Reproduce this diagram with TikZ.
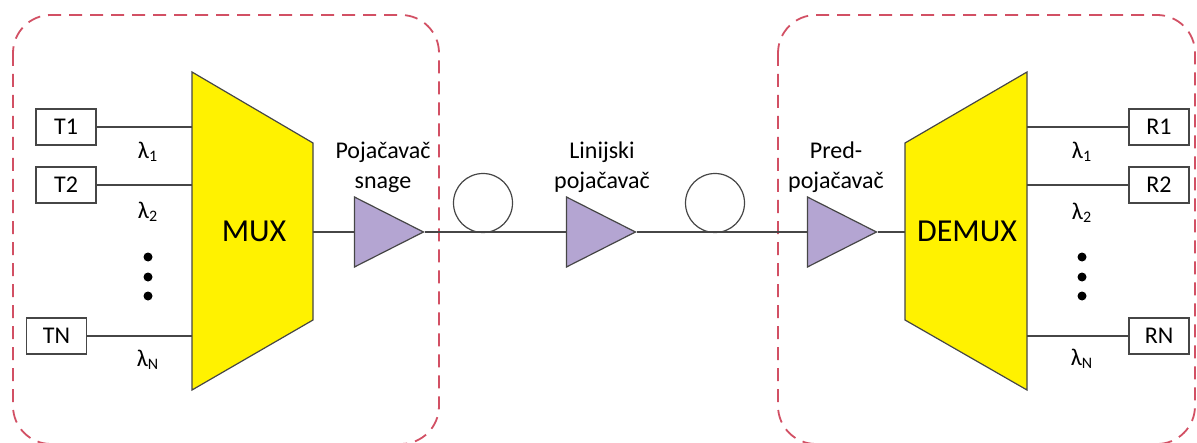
\documentclass[tikz,border=0pt]{standalone}
\usepackage{fontspec}
\setmainfont{Carlito}
\usepackage{tikz}
\usetikzlibrary{shapes.geometric,positioning}
\definecolor{ampPurple}{RGB}{180,165,210}
\definecolor{frameRed}{RGB}{210,80,100}
\definecolor{wireGray}{RGB}{70,70,70}
\tikzstyle{txbox} = [draw=wireGray, rectangle, line width=0.6pt, minimum width=30pt, minimum height=18pt, inner sep=0pt, font=\fontsize{12}{14}\selectfont]
\tikzstyle{amp} = [draw=wireGray, isosceles triangle, isosceles triangle stretches, minimum width=35pt, minimum height=34.5pt, inner sep=0pt, fill=ampPurple, line width=0.6pt]
\tikzstyle{fiber} = [draw=wireGray, circle, minimum size=29.5pt, inner sep=0pt, line width=0.6pt]
\tikzstyle{lbl} = [align=center, font=\fontsize{12}{15}\selectfont]
\tikzstyle{wl} = [font=\fontsize{12}{14}\selectfont]
\tikzstyle{muxbox} = [draw=wireGray, fill=yellow, line width=0.6pt]
\tikzstyle{frame} = [draw=frameRed, dash pattern=on 6.5pt off 4pt, line width=0.9pt, rounded corners=19pt]
\tikzstyle{wire} = [draw=wireGray, line width=0.6pt]
\tikzstyle{dot} = [circle, fill=black, minimum size=4.5pt, inner sep=0pt]
\begin{document}
\begin{tikzpicture}[x=0.5pt, y=-0.5pt]
		\useasboundingbox (0,0) rectangle (1197,443);
		%frames
		\draw[frame] (13,15) rectangle (439,444);
		\draw[frame] (778,15) rectangle (1195,444);
		
		%mux and demux
		\draw[muxbox] (192,72) -- (313,143) -- (313,320) -- (192,390) -- cycle;
		\draw[muxbox] (905,143) -- (1027,72) -- (1027,390) -- (905,320) -- cycle;
		\node[font=\fontsize{16}{18}\selectfont](mux) at (254,231){MUX};
		\node[font=\fontsize{16}{18}\selectfont](demux) at (967,231){DEMUX};
		\coordinate (muxIn) at (192,232);
		\coordinate (muxOut) at (313,232);
		\coordinate (demuxIn) at (905,232);
		\coordinate (demuxOut) at (1027,232);
		
		%blocks
		\node[txbox](t1) at (66,127){T1};
		\node[txbox](t2) at (66,185){T2};
		\node[txbox](tn) at (56.5,336){TN};
		\node[txbox](r1) at (1159,127){R1};
		\node[txbox](r2) at (1159,185){R2};
		\node[txbox](rn) at (1159,336){RN};
		\node[amp, anchor=apex](amp1) at (425,232){};
		\node[amp, anchor=apex](amp2) at (637,232){};
		\node[amp, anchor=apex](amp3) at (878,232){};
		\node[fiber](coil1) at (483,203){};
		\node[fiber](coil2) at (715,203){};
		
		%labels
		\node[wl](lt1) at (148,152){λ\textsubscript{1}};
		\node[wl](lt2) at (148,212){λ\textsubscript{2}};
		\node[wl](ltn) at (148,360){λ\textsubscript{N}};
		\node[wl](lr1) at (1082,152){λ\textsubscript{1}};
		\node[wl](lr2) at (1082,213){λ\textsubscript{2}};
		\node[wl](lrn) at (1082,359){λ\textsubscript{N}};
		\node[lbl](amp1Text) at (383,167){Pojačavač\\snage};
		\node[lbl](amp2Text) at (602,167){Linijski\\pojačavač};
		\node[lbl](amp3Text) at (836,167){Pred-\\pojačavač};
		\foreach \y in {257,277,296}{
			\node[dot] at (148,\y){};
			\node[dot] at (1082,\y){};
		}
		
		%wires
		\draw[wire](t1)--(t1 -| muxIn);
		\draw[wire](t2)--(t2 -| muxIn);
		\draw[wire](tn)--(tn -| muxIn);
		\draw[wire](muxOut)--(amp1);
		\draw[wire](amp1.apex)--(amp2);
		\draw[wire](amp2.apex)--(amp3);
		\draw[wire](amp3.apex)--(demuxIn);
		\draw[wire](r1 -| demuxOut)--(r1);
		\draw[wire](r2 -| demuxOut)--(r2);
		\draw[wire](rn -| demuxOut)--(rn);
	\end{tikzpicture}
\end{document}
